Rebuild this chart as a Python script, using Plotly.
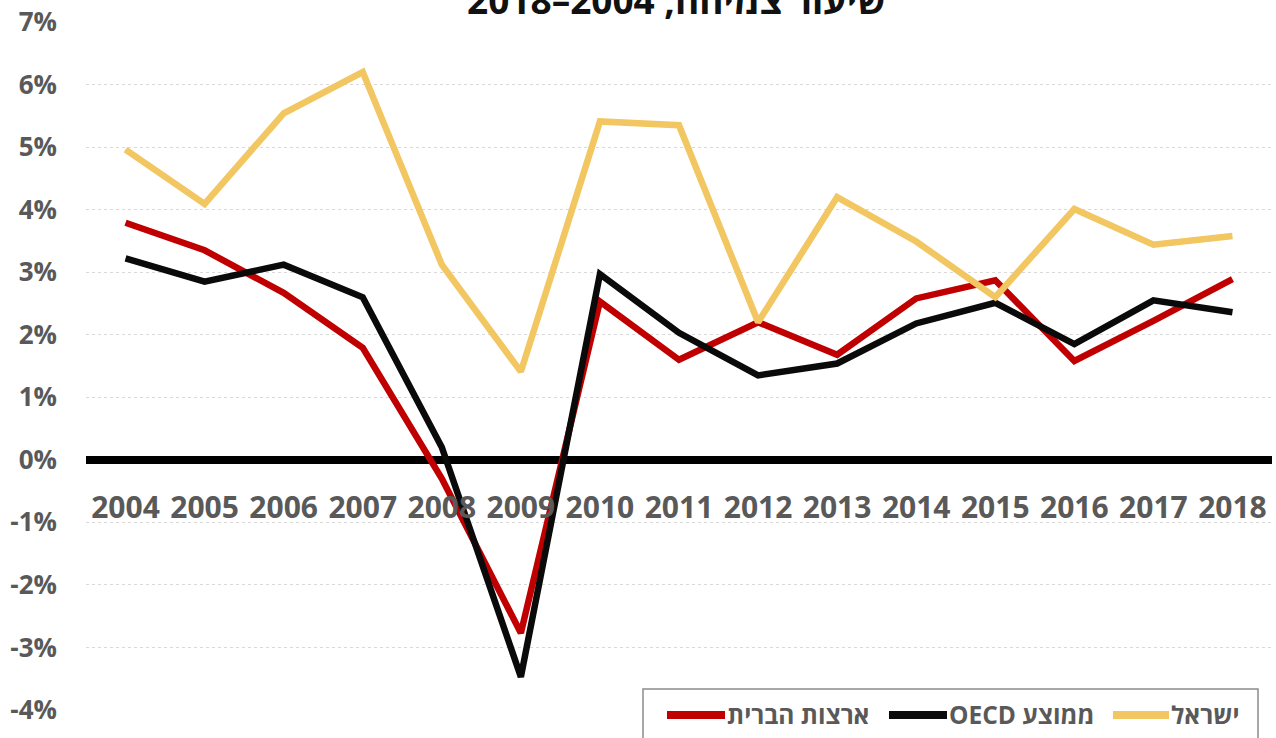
import plotly.graph_objects as go

years = [str(y) for y in range(2004, 2019)]
israel = [4.96, 4.09, 5.54, 6.20, 3.12, 1.41, 5.41, 5.35, 2.20, 4.20, 3.49, 2.60, 4.01, 3.44, 3.58]
oecd = [3.22, 2.85, 3.12, 2.60, 0.20, -3.47, 2.97, 2.03, 1.35, 1.54, 2.18, 2.51, 1.85, 2.55, 2.36]
usa = [3.79, 3.35, 2.67, 1.79, -0.30, -2.77, 2.53, 1.60, 2.20, 1.68, 2.58, 2.87, 1.58, 2.22, 2.89]

series_names = ["ארצות הברית", "\u202bממוצע OECD\u202c", "ישראל"]
series_colors = ["#C00000", "#0A0A0A", "#F2C661"]
title_text = "\u202bשיעור צמיחה, 2004–2018\u202c"
y_ticks = [-4, -3, -2, -1, 0, 1, 2, 3, 4, 5, 6, 7]
y_labels = [f"{v}%" for v in y_ticks]

FONT = "Open Sans"
GREY = "#595959"

W, H = 1276, 738
ML, MR, MT, MB = 86, 4, 22, 28
PW, PH = W - ML - MR, H - MT - MB


def px(x):
    return (x - ML) / PW


def py(y):
    return (H - MB - y) / PH


fig = go.Figure()
for vals, name, color in zip([usa, oecd, israel], series_names, series_colors):
    fig.add_trace(go.Scatter(x=years, y=vals, name=name, mode="lines",
                             line=dict(color=color, width=6.5), showlegend=False))

# title
fig.add_annotation(text="<b>" + title_text + "</b>", xref="paper", yref="paper",
                   x=px(676), xanchor="center", y=py(27), yanchor="bottom",
                   showarrow=False, font=dict(size=37, color="#111111", family=FONT))

# legend drawn as a box with line samples and labels
fig.add_shape(type="rect", xref="paper", yref="paper",
              x0=px(643), x1=px(1258), y0=py(760), y1=py(689),
              line=dict(color="#8c8c8c", width=1.5), fillcolor="white", layer="above")
leg_line_x = [(667, 725), (889, 947), (1113, 1169)]
for (x0, x1), name, color in zip(leg_line_x, series_names, series_colors):
    fig.add_shape(type="line", xref="paper", yref="paper",
                  x0=px(x0), x1=px(x1), y0=py(715), y1=py(715),
                  line=dict(color=color, width=8), layer="above")
    fig.add_annotation(text="<b>" + name + "</b>", xref="paper", yref="paper",
                       x=px(x1), xanchor="left", y=py(715), yanchor="middle",
                       showarrow=False,
                       font=dict(size=24.5, color=GREY, family=FONT))

fig.update_layout(
    width=W, height=H,
    margin=dict(l=ML, r=MR, t=MT, b=MB),
    paper_bgcolor="white", plot_bgcolor="white",
    font=dict(family=FONT),
    showlegend=False,
    xaxis=dict(type="category", range=[-0.5, 14.5], showgrid=False,
               showline=False, ticks="", anchor="free", position=4/11,
               tickfont=dict(size=30, color=GREY, family=FONT, weight="bold"),
               ticklabelstandoff=27, zeroline=False, automargin=False),
    yaxis=dict(range=[-4, 7], tickvals=y_ticks, ticktext=y_labels,
               showgrid=True, gridcolor="#d9d9d9", griddash="dot", gridwidth=1,
               zeroline=True, zerolinecolor="#000000", zerolinewidth=8,
               showline=False, ticks="", automargin=False,
               tickfont=dict(size=26, color=GREY, family=FONT, weight="bold"),
               ticklabelstandoff=28),
)

fig.write_html("out.html", config={"displayModeBar": False},
               post_script="document.body.style.margin='0';")
